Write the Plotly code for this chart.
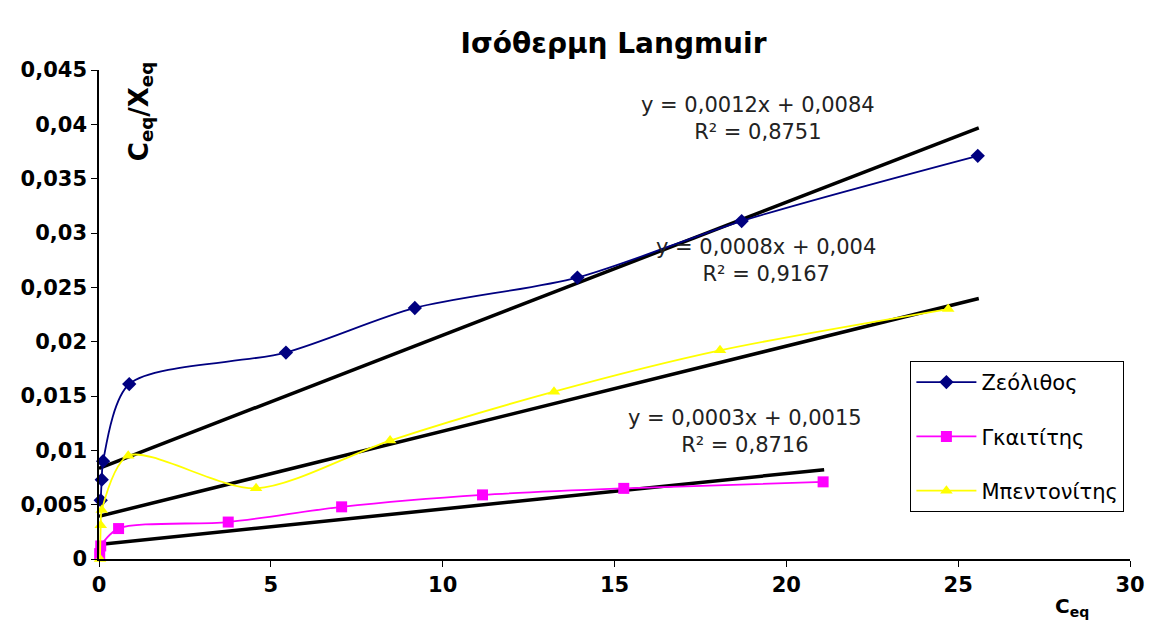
import plotly.graph_objects as go

# Data
zeo_x = [0.05, 0.08, 0.12, 0.88, 5.44, 9.19, 13.92, 18.70, 25.57]
zeo_y = [0.0054, 0.0073, 0.0090, 0.0161, 0.0190, 0.0231, 0.0259, 0.0311, 0.0371]

gka_x = [0.02, 0.05, 0.57, 3.76, 7.06, 11.16, 15.27, 21.07]
gka_y = [0.0005, 0.0012, 0.0028, 0.0034, 0.0048, 0.0059, 0.0065, 0.0071]

ben_x = [0.03, 0.05, 0.08, 0.85, 4.57, 8.47, 13.24, 18.07, 24.71]
ben_y = [0.0000, 0.0031, 0.0045, 0.0095, 0.0065, 0.0109, 0.0154, 0.0192, 0.0230]

series_names = ["Ζεόλιθος", "Γκαιτίτης", "Μπεντονίτης"]
series_colors = ["#000080", "#FF00FF", "#FFFF00"]
series_symbols = ["diamond", "square", "triangle-up"]

# Trendlines: slope, intercept, x-range (as drawn)
trend_slope = [0.001224, 0.000783, 0.000326]
trend_intercept = [0.00835, 0.00393, 0.00134]
trend_xmin = [0.0, 0.0, 0.0]
trend_xmax = [25.6, 25.6, 21.1]
trend_text = ["y = 0,0012x + 0,0084<br>R² = 0,8751",
              "y = 0,0008x + 0,004<br>R² = 0,9167",
              "y = 0,0003x + 0,0015<br>R² = 0,8716"]
trend_label_x = [19.17, 19.4, 18.8]
trend_label_y = [0.0405, 0.0275, 0.0117]

y_tickvals = [0, 0.005, 0.01, 0.015, 0.02, 0.025, 0.03, 0.035, 0.04, 0.045]
y_ticktext = ["0", "0,005", "0,01", "0,015", "0,02", "0,025", "0,03", "0,035", "0,04", "0,045"]
x_tickvals = [0, 5, 10, 15, 20, 25, 30]

fig = go.Figure()

for i in range(3):
    x0, x1 = trend_xmin[i], trend_xmax[i]
    fig.add_trace(go.Scatter(
        x=[x0, x1],
        y=[trend_slope[i] * x0 + trend_intercept[i], trend_slope[i] * x1 + trend_intercept[i]],
        mode="lines", line=dict(color="black", width=3.5),
        showlegend=False, hoverinfo="skip"))

data = [(zeo_x, zeo_y), (gka_x, gka_y), (ben_x, ben_y)]
for i, (xs, ys) in enumerate(data):
    fig.add_trace(go.Scatter(
        x=xs, y=ys, mode="lines+markers", name=series_names[i],
        line=dict(color=series_colors[i], width=1.8, shape="spline", smoothing=0.8),
        marker=dict(symbol=series_symbols[i], color=series_colors[i], size=11),
        cliponaxis=False, legendgroup=str(i)))

for i in range(3):
    fig.add_annotation(x=trend_label_x[i], y=trend_label_y[i], text=trend_text[i],
                       showarrow=False, font=dict(family="DejaVu Sans", size=21, color="#222"),
                       align="center")

fig.add_annotation(x=1.19, y=0.0412, text="<b>C<sub>eq</sub>/X<sub>eq</sub></b>", textangle=-90,
                   showarrow=False, font=dict(family="DejaVu Sans", size=26, color="black"))
fig.add_annotation(xref="paper", yref="paper", x=0.962, y=-0.068, yanchor="top",
                   text="<b>C<sub>eq</sub></b>", showarrow=False,
                   font=dict(family="DejaVu Sans", size=20, color="black"))

# page body has an 8px margin: shrink figure so plot area lands where the reference has it
fig.update_layout(
    width=1149, height=616,
    margin=dict(l=91, r=19, t=62, b=65),
    paper_bgcolor="white", plot_bgcolor="white",
    title=dict(text="<b>Ισόθερμη Langmuir</b>", x=0.527, xanchor="center", y=0.958,
               font=dict(family="DejaVu Sans", size=28, color="black")),
    font=dict(family="DejaVu Sans", color="black"),
    legend=dict(x=0.787, y=0.405, xanchor="left", yanchor="top",
                bgcolor="white", bordercolor="black", borderwidth=1,
                font=dict(family="DejaVu Sans", size=21, color="black"),
                tracegroupgap=24, itemwidth=60),
    showlegend=True,
)
fig.update_xaxes(range=[0, 30], tickvals=x_tickvals, showgrid=False, zeroline=False,
                 showline=True, linecolor="black", linewidth=1.5, ticks="outside",
                 ticklen=6, tickcolor="black",
                 tickfont=dict(family="DejaVu Sans", size=21, color="black", weight="bold"))
fig.update_yaxes(range=[0, 0.045], tickvals=y_tickvals, ticktext=y_ticktext, showgrid=False,
                 zeroline=False, showline=True, linecolor="black", linewidth=1.5,
                 ticks="outside", ticklen=6, tickcolor="black",
                 tickfont=dict(family="DejaVu Sans", size=21, color="black", weight="bold"))

fig.write_html("out.html")
